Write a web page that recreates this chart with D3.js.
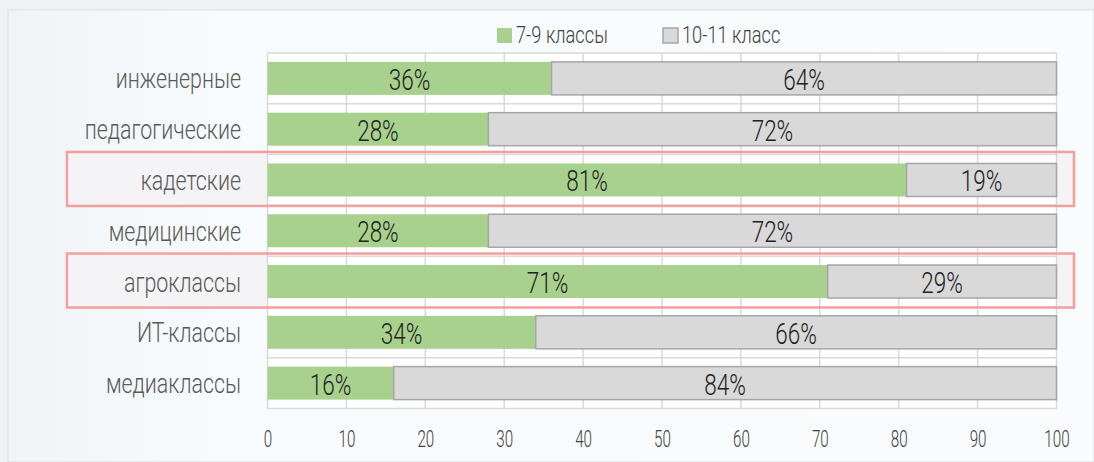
<!DOCTYPE html>
<html>
<head>
<meta charset="UTF-8">
<script src="https://d3js.org/d3.v7.min.js"></script>
<style>
  body { margin: 0; background: #eef1f4; }
  svg text { font-family: Roboto, "Noto Sans", sans-serif; font-weight: 300; }
</style>
</head>
<body>
<svg width="1094" height="462"></svg>
<script>
// data
var categories = ["инженерные", "педагогические", "кадетские", "медицинские", "агроклассы", "ИТ-классы", "медиаклассы"];
var grades79 = [36, 28, 81, 28, 71, 34, 16];
var grades1011 = [64, 72, 19, 72, 29, 66, 84];
var highlighted = ["кадетские", "агроклассы"];
var seriesNames = ["7-9 классы", "10-11 класс"];
var xTicks = [0, 10, 20, 30, 40, 50, 60, 70, 80, 90, 100];

const W = 1094, H = 462;
const plotL = 267.5, plotR = 1056.5, plotT = 53, plotB = 408.5;
const green = "#a9d18e", grey = "#d9d9d9", greyStroke = "#a6a6a6", gridColor = "#d9d9d9";

var svg = d3.select("svg");

// card background
var defs = svg.append("defs");
var grad = defs.append("linearGradient").attr("id", "card").attr("x1", 0).attr("x2", 1).attr("y1", 0).attr("y2", 0);
grad.append("stop").attr("offset", 0).attr("stop-color", "#f1f4f7");
grad.append("stop").attr("offset", 0.2).attr("stop-color", "#f8fbfd");
grad.append("stop").attr("offset", 1).attr("stop-color", "#f9fbfd");
svg.append("rect").attr("x", 0).attr("y", 0).attr("width", W).attr("height", H).attr("fill", "#eff2f5");
svg.append("rect").attr("x", 8).attr("y", 10).attr("width", W - 8).attr("height", H - 10)
  .attr("fill", "url(#card)").attr("stroke", "#e2e6ea").attr("stroke-width", 1.5);

var x = d3.scaleLinear().domain([0, 100]).range([plotL, plotR]);
var y = d3.scaleBand().domain(categories).range([plotT, plotB]).paddingInner(0.35).paddingOuter(0.175);

// highlight box fills
svg.selectAll(".hlfill").data(highlighted).enter().append("rect")
  .attr("x", 67).attr("y", d => y(d) + y.bandwidth() / 2 - 28)
  .attr("width", 1074 - 67).attr("height", 54)
  .attr("fill", "#f4f4f6");

// plot background
svg.append("rect").attr("x", plotL).attr("y", plotT).attr("width", plotR - plotL).attr("height", plotB - plotT).attr("fill", "#ffffff");

// grid
svg.selectAll(".vgrid").data(xTicks).enter().append("line")
  .attr("x1", d => x(d)).attr("x2", d => x(d)).attr("y1", plotT).attr("y2", plotB)
  .attr("stroke", gridColor).attr("stroke-width", 1.5);
svg.selectAll(".hgrid").data(d3.range(categories.length + 1)).enter().append("line")
  .attr("x1", plotL).attr("x2", plotR)
  .attr("y1", i => plotT + i * (plotB - plotT) / categories.length)
  .attr("y2", i => plotT + i * (plotB - plotT) / categories.length)
  .attr("stroke", gridColor).attr("stroke-width", 1.5);

// bars
var rows = categories.map((c, i) => ({ cat: c, a: grades79[i], b: grades1011[i] }));
svg.selectAll(".barA").data(rows).enter().append("rect")
  .attr("x", x(0)).attr("y", d => y(d.cat))
  .attr("width", d => x(d.a) - x(0)).attr("height", y.bandwidth())
  .attr("fill", green);
svg.selectAll(".barB").data(rows).enter().append("rect")
  .attr("x", d => x(d.a)).attr("y", d => y(d.cat))
  .attr("width", d => x(d.a + d.b) - x(d.a)).attr("height", y.bandwidth())
  .attr("fill", grey).attr("stroke", greyStroke).attr("stroke-width", 1.5);

// bar labels
const labSx = 0.75;
function barLabel(cx, cy, txt) {
  svg.append("text").attr("transform", "translate(" + cx + "," + cy + ") scale(" + labSx + ",1)")
    .attr("text-anchor", "middle").attr("font-size", 30).attr("fill", "#222").text(txt);
}
rows.forEach(d => {
  var cy = y(d.cat) + y.bandwidth() / 2 + 11.5;
  barLabel((x(0) + x(d.a)) / 2, cy, d.a + "%");
  barLabel((x(d.a) + x(d.a + d.b)) / 2, cy, d.b + "%");
});

// highlight outlines
svg.selectAll(".hlline").data(highlighted).enter().append("rect")
  .attr("x", 67).attr("y", d => y(d) + y.bandwidth() / 2 - 28)
  .attr("width", 1074 - 67).attr("height", 54)
  .attr("fill", "none").attr("stroke", "#f59e9e").attr("stroke-width", 2.5);

// category axis
const catSx = 0.75;
var yAxis = svg.append("g").attr("transform", "translate(241,0)")
  .call(d3.axisLeft(y).tickSize(0).tickPadding(0));
yAxis.select(".domain").remove();
yAxis.selectAll("text")
  .attr("x", 0).attr("dy", null).attr("y", 10)
  .attr("transform", "scale(" + catSx + ",1)")
  .attr("font-size", 28.5).attr("fill", "#595959").attr("font-family", null);

// value axis
const tickSx = 0.62;
var xAxis = svg.append("g").attr("transform", "translate(0,446.5)")
  .call(d3.axisBottom(x).tickValues(xTicks).tickSize(0).tickPadding(0));
xAxis.select(".domain").remove();
xAxis.selectAll("text")
  .attr("y", 0).attr("dy", null)
  .attr("transform", "scale(" + tickSx + ",1)")
  .attr("font-size", 24.5).attr("fill", "#404040").attr("font-family", null);

// legend
const legSx = 0.76;
var legX = [497, 663];
var leg = svg.selectAll(".leg").data(seriesNames).enter().append("g")
  .attr("transform", (d, i) => "translate(" + legX[i] + ",28)");
leg.append("rect").attr("width", 15).attr("height", 15)
  .attr("fill", (d, i) => i ? grey : green)
  .attr("stroke", (d, i) => i ? greyStroke : "none").attr("stroke-width", 1.5);
leg.append("text").attr("transform", "translate(19,15) scale(" + legSx + ",1)")
  .attr("font-size", 24).attr("fill", "#404040").text(d => d);
</script>
</body>
</html>
